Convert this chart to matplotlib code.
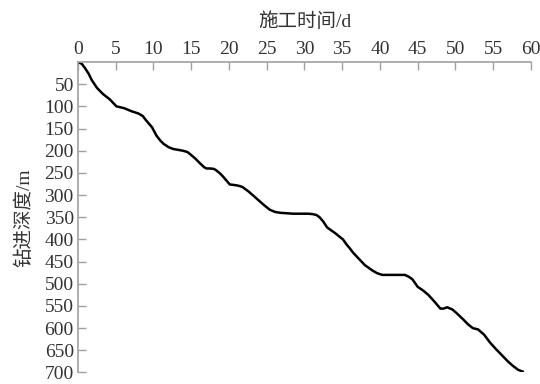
import matplotlib
matplotlib.use("Agg")
import matplotlib.pyplot as plt

# 施工时间(d) 与 钻进深度(m)
days = [0, 0.5, 0.9, 1.4, 1.8, 2.5, 3.3, 4.2, 5.1, 6.1, 7.1, 8.0, 8.6, 8.9, 9.3,
        9.8, 10.4, 10.9, 11.3, 12.0, 12.6, 13.9, 14.5, 14.8, 15.5, 16.2, 16.7,
        17.0, 17.5, 18.0, 18.3, 18.8, 19.2, 19.7, 20.1, 21.0, 21.5, 21.8, 22.6,
        23.8, 24.6, 25.4, 26.1, 26.8, 28.5, 30.5, 31.1, 31.6, 32.0, 32.5, 33.0,
        34.0, 35.1, 35.6, 36.0, 36.4, 37.0, 38.0, 39.0, 39.6, 40.3, 42.0, 43.3,
        43.8, 44.3, 45.0, 45.7, 46.4, 47.2, 48.0, 48.4, 48.9, 49.6, 50.2, 51.0,
        51.7, 52.3, 53.0, 53.8, 54.6, 55.4, 56.2, 57.0, 57.6, 58.3, 58.9]
depth = [0, 4, 13, 26, 40, 58, 72, 84, 100, 104, 111, 116, 122, 129, 137,
         147, 166, 177, 184, 192, 196, 200, 203, 207, 217, 229, 237,
         240, 240, 241, 244, 251, 258, 268, 276, 278, 280, 282, 292,
         310, 322, 333, 338, 340, 342, 342, 343, 345, 350, 360, 373,
         385, 400, 412, 420, 429, 440, 458, 470, 476, 480, 480, 480,
         484, 490, 507, 515, 525, 540, 556, 556, 553, 558, 567, 580,
         592, 600, 603, 615, 633, 648, 662, 676, 685, 694, 698]

plt.rcParams['font.family'] = ['Liberation Serif', 'Noto Sans CJK SC']

fig = plt.figure(figsize=(5.4, 3.84), dpi=100)
ax = fig.add_axes([0.1444, 0.03, 0.8389, 0.8085])
ax.plot(days, depth, color='black', linewidth=1.8)

ax.set_xlim(0, 60)
ax.set_ylim(700, 0)
ax.set_xticks(range(0, 61, 5))
ax.set_yticks(range(50, 701, 50))
ax.xaxis.set_ticks_position('top')
ax.xaxis.set_label_position('top')

for s in ['right', 'bottom']:
    ax.spines[s].set_visible(False)
for s in ['top', 'left']:
    ax.spines[s].set_color('#a0a0a0')
    ax.spines[s].set_linewidth(1.2)

ax.tick_params(axis='both', direction='in', length=6, width=1.0,
               color='#a0a0a0', labelsize=14, labelcolor='#333333', pad=3)

ax.set_xlabel('施工时间/d', fontsize=14, color='#333333', labelpad=10)
ax.set_ylabel('钻进深度/m', fontsize=14, color='#333333', labelpad=8)

fig.savefig('out.png', dpi=100)
